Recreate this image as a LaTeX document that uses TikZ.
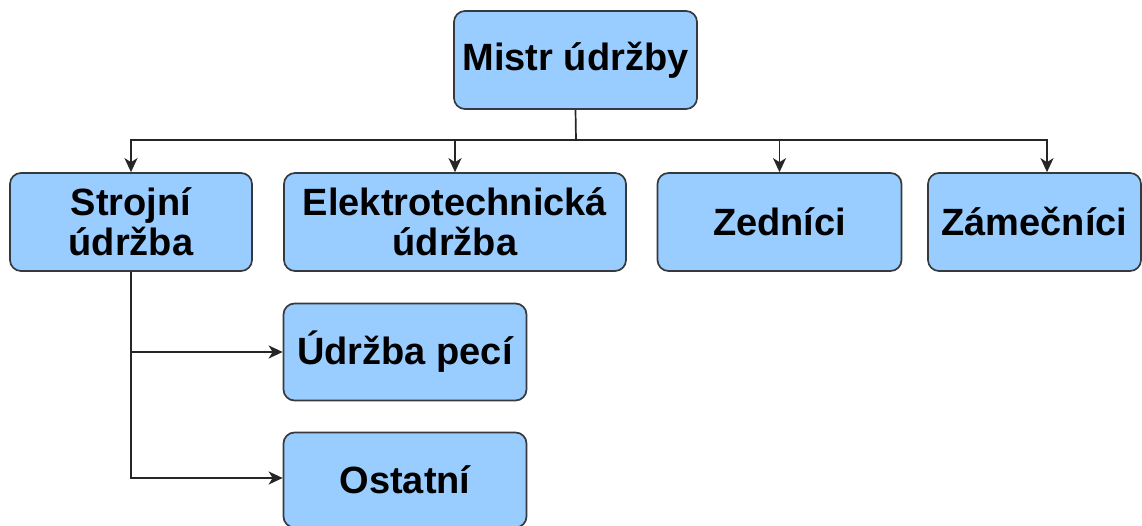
\documentclass[tikz,border=0pt]{standalone}
\usepackage{fontspec}
\setmainfont{Liberation Sans}
\usetikzlibrary{arrows.meta}
\definecolor{boxfill}{HTML}{99CCFF}
\definecolor{boxline}{HTML}{36393D}
\tikzset{
  unit/.style={draw=boxline, fill=boxfill, line width=1.7pt, rounded corners=11pt,
    align=center, inner sep=0pt, text=black,
    font=\fontsize{38}{40}\selectfont\bfseries},
  link/.style={draw=black!85, line width=1.7pt,
    -{Stealth[length=14pt, width=13pt, inset=4pt]}},
  plain/.style={draw=black!85, line width=1.7pt}
}
\begin{document}
\begin{tikzpicture}[x=1pt, y=-1pt]
\useasboundingbox (0,0) rectangle (1142,526);

\node[unit, minimum width=243pt, minimum height=98pt] (mistr) at (575.5,60) {Mistr údržby};

\node[unit, minimum width=242pt, minimum height=98pt] (stroj) at (131,222) {Strojní\\údržba};
\node[unit, minimum width=342pt, minimum height=98pt] (elek) at (455,222) {Elektrotechnická\\údržba};
\node[unit, minimum width=244pt, minimum height=98pt] (zed) at (779.5,222) {Zedníci};
\node[unit, minimum width=213pt, minimum height=98pt] (zam) at (1034.5,222) {Zámečníci};

\node[unit, minimum width=243pt, minimum height=97pt] (pec) at (405,352) {Údržba pecí};
\node[unit, minimum width=243pt, minimum height=95pt] (ost) at (405,480) {Ostatní};

\coordinate (bus) at (576,140);

\draw[plain] (mistr.south) -- (bus);
\draw[link] (bus) -| (stroj.north);
\draw[link] (bus) -| (elek.north);
\draw[link] (bus) -| (zed.north);
\draw[link] (bus) -| ([xshift=12.5pt]zam.north);

\draw[link] (stroj.south) |- (pec.west);
\draw[link] (stroj.south) |- ([yshift=2pt]ost.west);
\end{tikzpicture}
\end{document}
